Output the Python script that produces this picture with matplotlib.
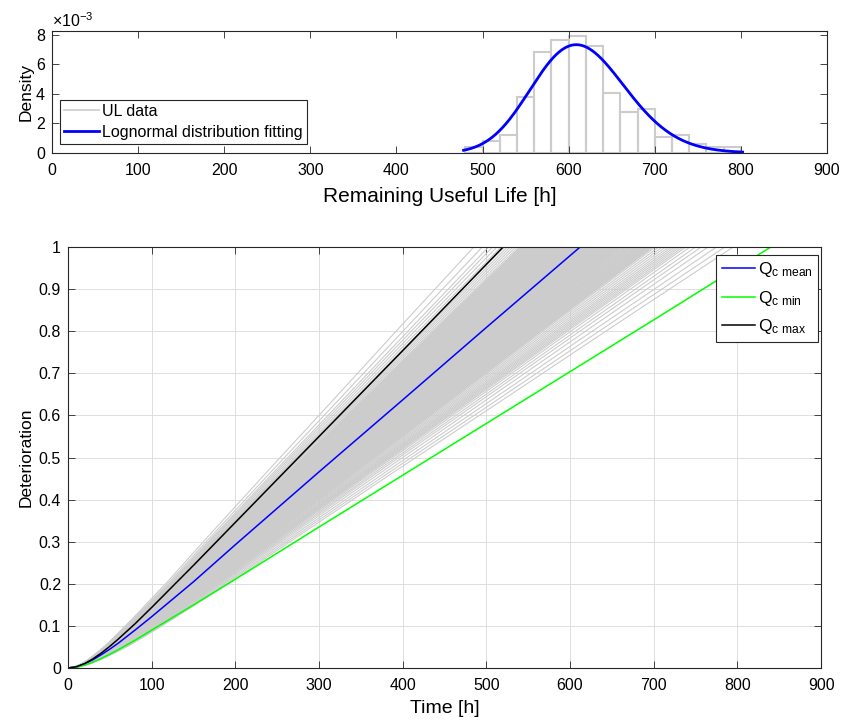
import numpy as np
import matplotlib
matplotlib.use('Agg')
import matplotlib.pyplot as plt
from matplotlib.lines import Line2D
from matplotlib.ticker import FuncFormatter

plt.rcParams['font.family'] = ['Liberation Sans', 'DejaVu Sans']
plt.rcParams['mathtext.fontset'] = 'custom'
plt.rcParams['mathtext.rm'] = 'Liberation Sans'
plt.rcParams['mathtext.it'] = 'Liberation Sans:italic'

# ---------------- data ----------------
# histogram of remaining useful life (20 h bins, pdf-normalised)
bin_edges = np.arange(480, 801, 20)
bin_density = [0.38e-3, 0.84e-3, 1.25e-3, 3.82e-3, 6.83e-3, 7.66e-3, 7.91e-3, 7.25e-3,
               4.05e-3, 2.76e-3, 2.98e-3, 1.06e-3, 1.25e-3, 0.61e-3, 0.38e-3, 0.38e-3]
bin_counts = [2, 4, 6, 19, 34, 38, 40, 36, 20, 14, 15, 5, 6, 3, 2, 2]

# fitted lognormal parameters and plotted range
logn_mu = 6.4195
logn_sigma = 0.089
fit_range = (478, 802)

# characteristic deterioration curves (time [h], deterioration)
mean_t = [0, 10, 20, 30, 40, 50, 60, 80, 100, 150, 200, 300, 400, 500, 612]
mean_d = [0, 0.003, 0.0099, 0.020, 0.032, 0.045, 0.059, 0.090, 0.122, 0.205, 0.293,
          0.466, 0.637, 0.809, 1.0]
min_t = [0, 10, 20, 30, 40, 50, 60, 80, 100, 150, 200, 300, 400, 500, 600, 700, 800, 840]
min_d = [0, 0.002, 0.007, 0.0143, 0.023, 0.033, 0.0435, 0.066, 0.090, 0.150, 0.211,
         0.335, 0.458, 0.581, 0.704, 0.827, 0.951, 1.0]
max_t = [0, 10, 20, 30, 40, 50, 60, 80, 100, 150, 200, 300, 400, 520]
max_d = [0, 0.003, 0.0108, 0.0222, 0.036, 0.0517, 0.0687, 0.105, 0.144, 0.244, 0.346,
         0.550, 0.754, 1.0]

# ---------------- figure ----------------
fig = plt.figure(figsize=(8.41, 7.24), dpi=100)
ax1 = fig.add_axes([0.0618, 0.7887, 0.9215, 0.1685])
ax2 = fig.add_axes([0.0809, 0.0773, 0.8954, 0.5815])

axcol = '#262626'
for ax in (ax1, ax2):
    ax.tick_params(direction='in', top=True, right=True, length=5, width=0.6,
                   color=axcol, labelsize=11.5, pad=7)
    for s in ax.spines.values():
        s.set_color(axcol)
        s.set_linewidth(0.8)

# ---- top: histogram + lognormal fit ----
ax1.bar(bin_edges[:-1], bin_density, width=20, align='edge', fill=False,
        edgecolor='#CCCCCC', linewidth=1.5)
xf = np.linspace(fit_range[0], fit_range[1], 400)
pdf = np.exp(-(np.log(xf) - logn_mu) ** 2 / (2 * logn_sigma ** 2)) / (xf * logn_sigma * np.sqrt(2 * np.pi))
ax1.plot(xf, pdf, color='#0000FF', linewidth=2)
ax1.set_xlim(0, 900)
ax1.set_ylim(0, 0.00826)
ax1.set_xticks(np.arange(0, 901, 100))
ax1.set_yticks(np.arange(0, 0.0081, 0.002))
ax1.yaxis.set_major_formatter(FuncFormatter(lambda v, p: '%g' % round(v * 1e3, 6)))
ax1.tick_params(axis='y', pad=5)
ax1.text(0.0, 1.01, r'$\times$10$^{-3}$', transform=ax1.transAxes, ha='left', va='bottom',
         fontsize=11.5)
ax1.set_xlabel('Remaining Useful Life [h]', fontsize=15, labelpad=7)
ax1.set_ylabel('Density', fontsize=12.5, labelpad=2)
h1 = [Line2D([], [], color='#CCCCCC', linewidth=1.2),
      Line2D([], [], color='#0000FF', linewidth=2)]
leg1 = ax1.legend(h1, ['UL data', 'Lognormal distribution fitting'], loc='lower left',
                  bbox_to_anchor=(0.0103, 0.074), borderaxespad=0, fontsize=11.5,
                  fancybox=False, framealpha=1, edgecolor=axcol, handlelength=2.2,
                  handletextpad=0.2, borderpad=0.25, labelspacing=0.38)
leg1.get_frame().set_linewidth(0.8)

# ---- bottom: deterioration paths ----
T_mean = mean_t[-1]
for k, c in enumerate(bin_counts):
    lo = bin_edges[k]
    for j in range(c):
        T_end = lo + (j + 0.5) * 20.0 / c
        ax2.plot(np.array(mean_t) * T_end / T_mean, mean_d, color='#CCCCCC', linewidth=0.8)
l_mean, = ax2.plot(mean_t, mean_d, color='#0000FF', linewidth=1.1)
l_min, = ax2.plot(min_t, min_d, color='#00FF00', linewidth=1.1)
l_max, = ax2.plot(max_t, max_d, color='black', linewidth=1.1)
ax2.set_xlim(0, 900)
ax2.set_ylim(0, 1)
ax2.set_xticks(np.arange(0, 901, 100))
ax2.set_yticks(np.arange(0, 1.01, 0.1))
ax2.yaxis.set_major_formatter(FuncFormatter(lambda v, p: '%g' % round(v, 3)))
ax2.tick_params(axis='y', pad=5)
ax2.grid(True, color='#DEDEDE', linewidth=0.7)
ax2.set_axisbelow(True)
ax2.set_xlabel('Time [h]', fontsize=14, labelpad=5)
ax2.set_ylabel('Deterioration', fontsize=12.5, labelpad=4)
leg2 = ax2.legend([l_mean, l_min, l_max],
                  [r'Q$_{\mathrm{c\ mean}}$', r'Q$_{\mathrm{c\ min}}$', r'Q$_{\mathrm{c\ max}}$'],
                  loc='upper right', bbox_to_anchor=(0.996, 0.981), borderaxespad=0,
                  fontsize=12.5, fancybox=False, framealpha=1, edgecolor=axcol,
                  handlelength=1.9, handletextpad=0.2, borderpad=0.3, labelspacing=0.55)
leg2.get_frame().set_linewidth(0.8)

fig.savefig('out.png', dpi=100, facecolor='white')
